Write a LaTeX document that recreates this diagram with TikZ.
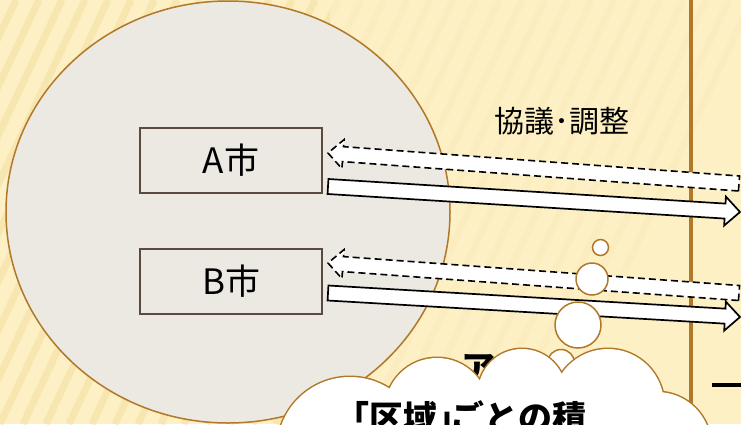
\documentclass[tikz,border=0pt]{standalone}
\usepackage{fontspec}
\newfontfamily\jp{Noto Sans CJK JP}
\usetikzlibrary{calc,shapes.geometric}
\definecolor{bgyel}{HTML}{FDF0C5}
\definecolor{stripecol}{HTML}{F4DFA2}
\definecolor{circfill}{HTML}{ECE9E2}
\definecolor{brownl}{HTML}{B07828}
\definecolor{boxline}{HTML}{5A4A40}
\newcommand\blkarrow[3]{%
  \coordinate (hb) at ($(#3)!15pt!(#2)$);
  \path[#1] ($(#2)!7.5pt!90:(#3)$) -- ($(hb)!7.5pt!90:(#3)$) -- ($(hb)!14.5pt!90:(#3)$)
    -- (#3) -- ($(hb)!14.5pt!-90:(#3)$) -- ($(hb)!7.5pt!-90:(#3)$) -- ($(#2)!7.5pt!-90:(#3)$) -- cycle;
}
\begin{document}
\begin{tikzpicture}[x=1pt,y=-1pt,
  citybox/.style={draw=boxline,line width=1.6pt,fill=circfill,minimum width=182pt,minimum height=65pt,inner sep=0pt,font=\jp\fontsize{35}{35}\selectfont},
  bubble/.style={circle,draw=brownl,line width=1.5pt,fill=white,inner sep=0pt},
  solidarrow/.style={draw=black,line width=1.7pt,fill=white,line join=miter},
  dasharrow/.style={draw=black,line width=1.6pt,fill=white,dash pattern=on 7pt off 4pt},
  cloudline/.style={draw=brownl,line width=3pt},
  cloudfill/.style={fill=white}]
\useasboundingbox (0,0) rectangle (741,424);
\fill[bgyel] (0,0) rectangle (741,424);
\begin{scope}
  \clip (0,0) rectangle (741,424);
  \foreach \i in {-10,...,24} {
    \draw[stripecol,line width=7pt,opacity=0.55] (\i*23,424) -- ++(200,-424);
  }
  \fill[bgyel,opacity=0.75] (330,0) rectangle (741,424);
\end{scope}
% vertical line
\coordinate (vt) at (690.5,0);
\coordinate (vb) at (690.5,424);
\draw[brownl,line width=4pt] (vt) -- (vb);
% region
\node[ellipse,draw=brownl,line width=1.5pt,fill=circfill,minimum width=444pt,minimum height=422pt,inner sep=0pt] (region) at (228,212) {};
% cities
\node[citybox] (A) at (231,160.5) {A市};
\node[citybox] (B) at (231,281.5) {B市};
% label
\node[font=\jp\fontsize{30}{30}\selectfont,inner sep=0pt] (lbl) at (562,121) {協議･調整};
% arrows
\coordinate (adt) at (739,183.5);
\coordinate (adh) at (328,153);
\coordinate (ast) at (328,186.5);
\coordinate (ash) at (740,212);
\coordinate (bdt) at (739,293);
\coordinate (bdh) at (328,263);
\coordinate (bst) at (328,293);
\coordinate (bsh) at (740,317);
\blkarrow{dasharrow}{adt}{adh}
\blkarrow{solidarrow}{ast}{ash}
\blkarrow{dasharrow}{bdt}{bdh}
\blkarrow{solidarrow}{bst}{bsh}
% thought bubbles
\node[bubble,minimum size=16pt] (b1) at (600.5,247.5) {};
\node[bubble,minimum size=32pt] (b2) at (592,279) {};
\node[bubble,minimum size=46pt] (b3) at (578,325) {};
\node[bubble,minimum size=27pt] (b4) at (561,363) {};
% hidden text behind cloud
\node[font=\jp\bfseries\fontsize{34}{34}\selectfont,inner sep=0pt] (hid) at (478,369) {ア};
\fill[black] (712,382.5) rectangle (741,386.5);
% cloud
\foreach \cx/\cy/\r in {350/450/73,437/410/52,522/393/44,608/405/56,657/446/54} {
  \draw[cloudline] (\cx,\cy) circle[radius=\r];
}
\foreach \cx/\cy/\r in {350/450/73,437/410/52,522/393/44,608/405/56,657/446/54,500/480/90} {
  \fill[cloudfill] (\cx,\cy) circle[radius=\r];
}
\node[font=\jp\bfseries\fontsize{34}{34}\selectfont,inner sep=0pt,anchor=west] (ctext) at (335,417) {「区域」\kern-0.6em ごとの積};
\end{tikzpicture}
\end{document}
